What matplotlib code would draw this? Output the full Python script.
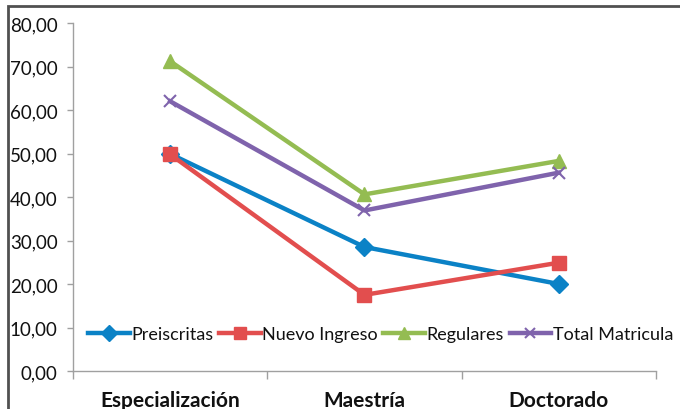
import matplotlib.pyplot as plt
from matplotlib.ticker import FuncFormatter

categories = ["Especialización", "Maestría", "Doctorado"]
preiscritas = [49.9, 28.5, 20.0]
nuevo_ingreso = [49.8, 17.5, 24.9]
regulares = [71.2, 40.6, 48.3]
total_matricula = [62.0, 36.9, 45.6]

plt.rcParams['font.family'] = ['Lato', 'DejaVu Sans']

fig = plt.figure(figsize=(6.8, 4.1), dpi=100)
ax = fig.add_axes([73 / 680, 1 - 372 / 410, (656 - 73) / 680, (372 - 24) / 410])

x = [0, 1, 2]
series = [
    ("Preiscritas", preiscritas, "#0B82C6", "D", 9),
    ("Nuevo Ingreso", nuevo_ingreso, "#E24E4E", "s", 10),
    ("Regulares", regulares, "#94BC52", "^", 10),
    ("Total Matricula", total_matricula, "#7F63AC", "x", 9),
]
for name, vals, color, marker, ms in series:
    ax.plot(x, vals, color=color, lw=3.2, marker=marker, markersize=ms,
            markeredgewidth=1.5 if marker == "x" else 1, label=name)

ax.set_xlim(-0.5, 2.5)
ax.set_ylim(0, 80)
ax.set_yticks(range(0, 81, 10))
ax.yaxis.set_major_formatter(FuncFormatter(lambda v, p: f"{v:.2f}".replace(".", ",")))
ax.tick_params(axis='y', labelsize=13.5, length=4, color="#A0A0A0", width=1, pad=7,
               labelcolor="#111111")

# category ticks sit on the boundaries between groups
ax.set_xticks([-0.5, 0.5, 1.5, 2.5])
ax.set_xticklabels([])
ax.set_xticks(x, minor=True)
ax.set_xticklabels(categories, minor=True, fontsize=15, fontweight='bold')
ax.tick_params(axis='x', which='major', length=6, color="#A0A0A0", width=1)
ax.tick_params(axis='x', which='minor', length=0, pad=14, labelcolor="#111111")

for side in ("top", "right"):
    ax.spines[side].set_visible(False)
for side in ("left", "bottom"):
    ax.spines[side].set_color("#A0A0A0")
    ax.spines[side].set_linewidth(1)

ax.legend(loc='center left', bbox_to_anchor=(0.026, 0.105), ncol=4, frameon=False,
          fontsize=13, handlelength=2.3, handletextpad=0.1, columnspacing=0.3,
          borderaxespad=0, borderpad=0, markerscale=0.85, labelcolor="#111111")

# outer chart frame
fig.patches.append(plt.Rectangle((8 / 680, -0.1), 1.1, 1 - 7 / 410 + 0.1,
                                 transform=fig.transFigure, fill=False,
                                 edgecolor="#505050", lw=2))

fig.savefig("out.png", dpi=100)
